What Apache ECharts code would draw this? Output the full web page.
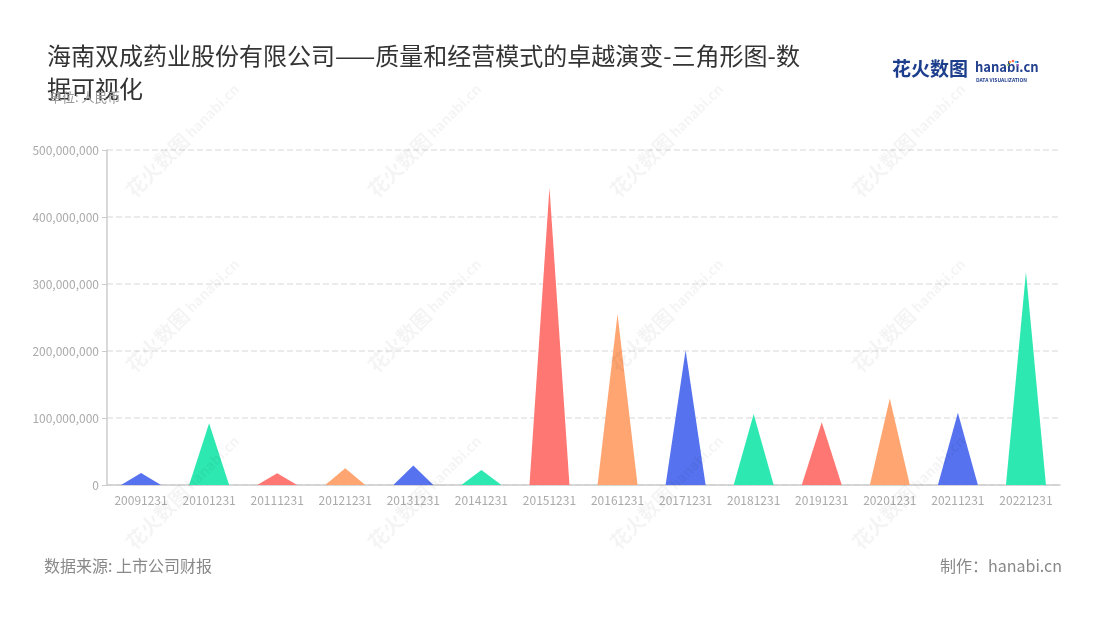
<!DOCTYPE html>
<html>
<head>
<meta charset="utf-8">
<script src="https://cdn.jsdelivr.net/npm/echarts@6/dist/echarts.min.js"></script>
<style>html,body{margin:0;padding:0;background:#fff;}#c{width:1100px;height:620px;}</style>
</head>
<body>
<div id="c"></div>
<script>
var categories = ['20091231','20101231','20111231','20121231','20131231','20141231','20151231','20161231','20171231','20181231','20191231','20201231','20211231','20221231'];
var values = [18000000, 92000000, 17500000, 25000000, 29000000, 22500000, 444000000, 255000000, 201000000, 106000000, 93500000, 129000000, 108000000, 318000000];
var palette = ['#5672ee', '#2ee8b1', '#ff7772', '#ffa571'];

var FONT = '"Noto Sans CJK SC","Noto Sans",sans-serif';
function fmt(v){ return String(v).replace(/\B(?=(\d{3})+(?!\d))/g, ','); }

var chart = echarts.init(document.getElementById('c'), null, {renderer:'canvas'});

var wm = [];
var cols = [183, 425, 667, 909];
var rows = [140, 315, 492];
rows.forEach(function(y){ cols.forEach(function(x){
  wm.push({type:'text', x:x, y:y, rotation:Math.PI/4, z:100, silent:true,
    style:{text:'{a|花火数图} {b|hanabi.cn}', align:'center', verticalAlign:'middle',
      rich:{a:{fill:'rgba(0,0,0,0.045)', font:'bold 20px ' + FONT}, b:{fill:'rgba(0,0,0,0.045)', font:'bold 14px ' + FONT}}}});
});});

var option = {
  backgroundColor:'#fff',
  title:[{
    text:'海南双成药业股份有限公司——质量和经营模式的卓越演变-三角形图-数\n据可视化',
    left:42, top:34,
    textStyle:{fontFamily:FONT, fontSize:24, fontWeight:'normal', color:'#333', lineHeight:33}
  },{
    text:'单位: 人民币', left:44, top:86,
    textStyle:{fontFamily:FONT, fontSize:13, fontWeight:'normal', color:'#999'}
  }],
  grid:{left:107, right:40, top:150, bottom:135},
  xAxis:{
    type:'category', data:categories,
    axisLine:{lineStyle:{color:'#ccc', width:1.5}},
    axisTick:{alignWithLabel:true, lineStyle:{color:'#ccc'}},
    axisLabel:{color:'#aaa', fontSize:12, fontFamily:FONT, margin:9, interval:0}
  },
  yAxis:{
    type:'value', min:0, max:500000000, interval:100000000,
    axisLine:{show:true, lineStyle:{color:'#ccc', width:1.5}},
    axisTick:{show:true, lineStyle:{color:'#ccc'}},
    axisLabel:{color:'#aaa', fontSize:12, fontFamily:FONT, formatter:function(v){return fmt(v);}},
    splitLine:{lineStyle:{type:'dashed', color:'#e5e5e5', width:1.5}}
  },
  series:[{
    type:'pictorialBar',
    symbol:'triangle',
    symbolSize:[40,'100%'],
    data: values.map(function(v,i){ return {value:v, itemStyle:{color:palette[i % palette.length]}}; })
  }],
  graphic: wm.concat([
    {type:'text', left:44, top:558, style:{text:'数据来源: 上市公司财报', fill:'#888', font:'16px ' + FONT}},
    {type:'text', right:38, top:558, style:{text:'制作：hanabi.cn', fill:'#888', font:'16px ' + FONT}},
    {type:'text', left:892, top:59, style:{text:'花火数图', fill:'#1c3e8c', font:'bold 19px ' + FONT}},
    {type:'text', left:975, top:61, style:{text:'hanabi.cn', fill:'#22408f', font:'bold 13px ' + FONT}},
    {type:'text', left:976, top:78, style:{text:'DATA VISUALIZATION', fill:'#22408f', font:'bold 5px ' + FONT}},
    {type:'circle', shape:{cx:1013, cy:61, r:1.3}, style:{fill:'#ff6b6b'}},
    {type:'circle', shape:{cx:1010, cy:62, r:1.3}, style:{fill:'#ffb347'}},
    {type:'circle', shape:{cx:1016, cy:62, r:1.3}, style:{fill:'#4fc3f7'}},
    {type:'circle', shape:{cx:1008, cy:65, r:1.1}, style:{fill:'#9ccc65'}},
    {type:'circle', shape:{cx:1018, cy:65, r:1.1}, style:{fill:'#ba68c8'}}
  ])
};
chart.setOption(option);
</script>
</body>
</html>
